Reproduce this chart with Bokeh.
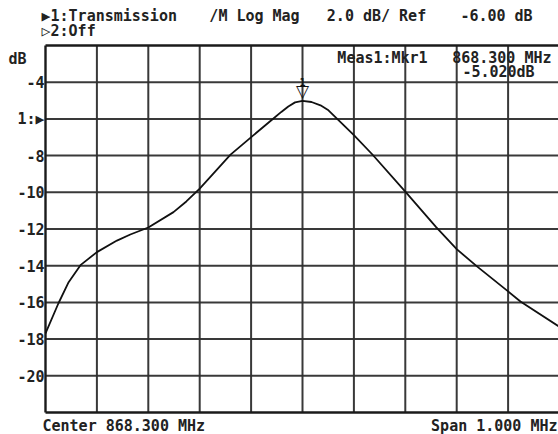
from bokeh.plotting import figure
from bokeh.models import Range1d, Label, ColumnDataSource
from bokeh.core.properties import value
from bokeh.embed import file_html
from bokeh.resources import INLINE

# ---- data ----
freq_mhz = [867.800, 867.825, 867.845, 867.868, 867.900, 867.939, 867.965, 868.000,
            868.049, 868.074, 868.100, 868.160, 868.202, 868.2446, 868.2588, 868.2724,
            868.2855, 868.300, 868.3175, 868.335, 868.3505, 868.364, 868.400, 868.436,
            868.500, 868.560, 868.600, 868.640, 868.700, 868.724, 868.798]
trans_db = [-17.69, -16.06, -14.90, -13.97, -13.26, -12.63, -12.30, -11.92,
            -11.08, -10.50, -9.80, -7.95, -6.95, -5.95, -5.62, -5.32,
            -5.10, -5.02, -5.08, -5.26, -5.53, -5.90, -6.88, -7.94,
            -9.96, -11.90, -13.10, -14.05, -15.40, -15.95, -17.30]
x_grid = [867.8, 867.9, 868.0, 868.1, 868.2, 868.3, 868.4, 868.5, 868.6, 868.7, 868.8]
y_grid = [-2, -4, -6, -8, -10, -12, -14, -16, -18, -20, -22]
y_ticks = [-4, -6, -8, -10, -12, -14, -16, -18, -20]
y_tick_labels = ["-4", "1:▶", "-8", "-10", "-12", "-14", "-16", "-18", "-20"]
marker_freq = 868.300
marker_db = -5.02
header1 = ["▶1:Transmission", "/M Log Mag", "2.0 dB/ Ref", "-6.00 dB"]
header2 = "▷2:Off"
unit_label = "dB"
readout1 = ["Meas1:Mkr1", "868.300 MHz"]
readout2 = "-5.020dB"
footer = ["Center 868.300 MHz", "Span 1.000 MHz"]

X0, X1 = 867.8, 868.8
Y0, Y1 = -22.0, -2.0

FONT = "DejaVu Sans Mono"
FS = "15px"
W, H = 558, 434
GRID_LEFT = 45.0
PX_PER_MHZ = 514.0
GRID_TOP = 45.0
GRID_BOTTOM = 412.0
PX_PER_DB = (GRID_BOTTOM - GRID_TOP) / (Y1 - Y0)


def fx(px):
    return X0 + (px - GRID_LEFT) / PX_PER_MHZ


def fy(py):
    return Y1 - (py - GRID_TOP) / PX_PER_DB


x_range = Range1d(X0 - GRID_LEFT / PX_PER_MHZ, X0 + (W - GRID_LEFT) / PX_PER_MHZ)
y_range = Range1d(Y0 - (H - GRID_BOTTOM) / PX_PER_DB, Y1 + GRID_TOP / PX_PER_DB)

p = figure(width=W, height=H, output_backend="svg", toolbar_location=None,
           x_range=x_range, y_range=y_range, title=None,
           min_border=0, min_border_left=0, min_border_right=0,
           min_border_top=0, min_border_bottom=0)
p.xaxis.visible = False
p.yaxis.visible = False
p.grid.visible = False
p.outline_line_color = None
p.background_fill_color = "white"
p.border_fill_color = "white"

# graticule
inner_x = [v for v in x_grid if v not in (X0, X1)]
inner_y = [v for v in y_grid if v not in (Y0, Y1)]
p.segment(x0=inner_x, y0=[Y0] * len(inner_x), x1=inner_x, y1=[Y1] * len(inner_x),
          line_color="#2e2e2e", line_width=2, line_alpha=0.95)
p.segment(x0=[X0] * len(inner_y), y0=inner_y, x1=[X1] * len(inner_y), y1=inner_y,
          line_color="#2e2e2e", line_width=2, line_alpha=0.95)
p.segment(x0=[X0, X1, X0, X0], y0=[Y0, Y0, Y1, Y0], x1=[X0, X1, X1, X1],
          y1=[Y1, Y1, Y1, Y0], line_color="#1a1a1a", line_width=2.4)

# trace
p.line(freq_mhz, trans_db, line_color="#111111", line_width=1.8, line_join="round")

# y tick labels
tick_src = ColumnDataSource(dict(x=[X0] * len(y_ticks), y=y_ticks, t=y_tick_labels))
p.text(x="x", y="y", text="t", source=tick_src, text_align="right",
       text_baseline="middle", x_offset=-1, text_font=value(FONT),
       text_font_style="bold", text_font_size=FS, text_color="#222222")


def lab(x, y, text, align="left", size=FS, font=FONT, **kw):
    p.add_layout(Label(x=x, y=y, text=text, text_font=font, text_font_style="bold",
                       text_font_size=size, text_color="#222222", text_align=align,
                       text_baseline="middle", **kw))


# header
lab(fx(41), fy(15), header1[0])
lab(fx(254), fy(15), header1[1], align="center")
lab(fx(376), fy(15), header1[2], align="center")
lab(fx(496), fy(15), header1[3], align="center")
lab(fx(41), fy(30), header2)
lab(fx(8), fy(58), unit_label)

# marker readout
lab(fx(382), fy(57), readout1[0], align="center")
lab(fx(551), fy(57), readout1[1], align="right")
lab(fx(498), fy(71), readout2, align="center")

# marker symbol
p.add_layout(Label(x=marker_freq, y=marker_db, text="▽", text_font="DejaVu Sans",
                   text_font_size="17px", text_color="#111111", text_align="center",
                   text_baseline="bottom", y_offset=0))
p.add_layout(Label(x=marker_freq, y=marker_db, text="1", text_font=FONT,
                   text_font_size="10px", text_font_style="bold", text_color="#111111",
                   text_align="center", text_baseline="bottom", y_offset=15))

# footer
lab(fx(42), fy(425), footer[0])
lab(fx(557), fy(425), footer[1], align="right")

open("out.html", "w").write(file_html(p, INLINE))
